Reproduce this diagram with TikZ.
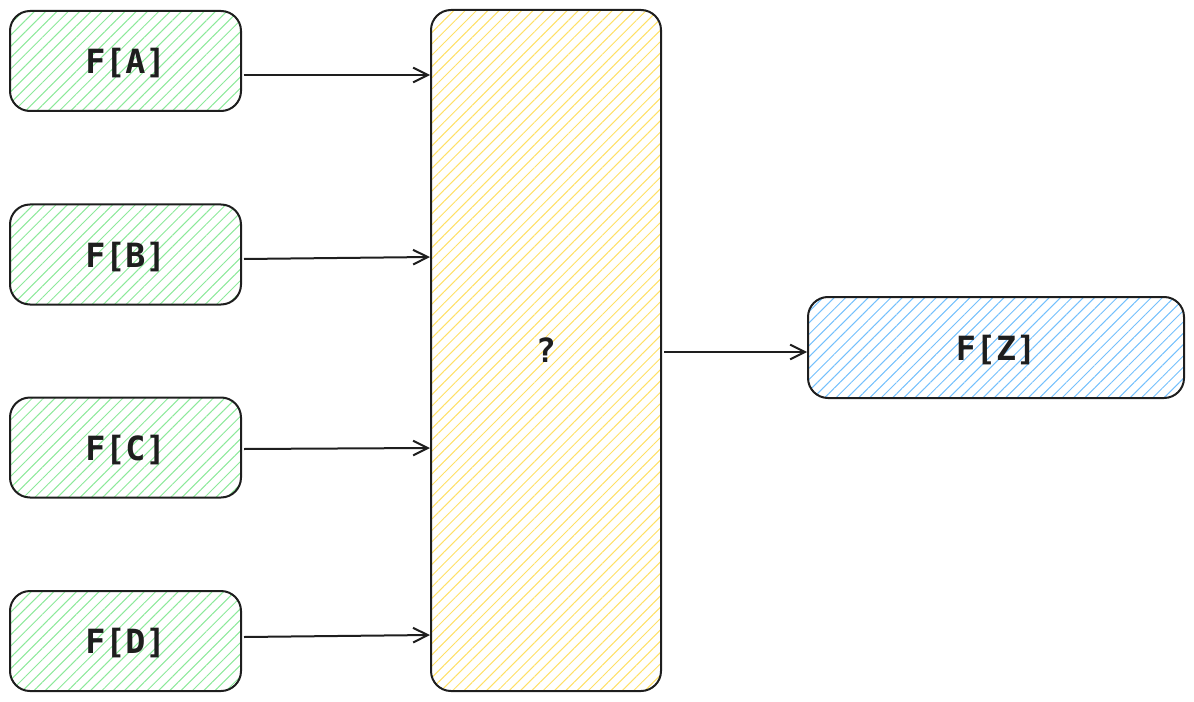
\documentclass[tikz,border=0pt]{standalone}
\usepackage{fontspec}
\setmonofont{DejaVu Sans Mono}
\usetikzlibrary{arrows.meta,patterns.meta}
\definecolor{ink}{HTML}{1E1E1E}
\definecolor{hgreen}{HTML}{8CE99A}
\definecolor{hyellow}{HTML}{FFE066}
\definecolor{hblue}{HTML}{74C0FC}
\tikzset{
  box/.style={draw=ink, line width=1.5pt, rounded corners=15pt, inner sep=0pt,
    pattern={Lines[angle=45,distance=6pt,line width=0.75pt]},
    font=\ttfamily\bfseries\fontsize{25}{29}\selectfont, text=ink, text depth=0pt},
  inbox/.style={box, pattern color=hgreen, minimum width=173.25pt, minimum height=75pt},
  midbox/.style={box, pattern color=hyellow, minimum width=172.5pt, minimum height=510.75pt},
  outbox/.style={box, pattern color=hblue, minimum width=282pt, minimum height=75.75pt},
  link/.style={draw=ink, line width=1.5pt, -{Straight Barb[length=11pt,width=11pt,line width=1.5pt]}}
}
\begin{document}
\begin{tikzpicture}[x=0.75pt,y=-0.75pt]
\useasboundingbox (0,0) rectangle (1194,702);
\node[inbox] (a) at (125.5,61) {F[A]};
\node[inbox] (b) at (125.5,254.5) {F[B]};
\node[inbox] (c) at (125.5,447.5) {F[C]};
\node[inbox] (d) at (125.5,641) {F[D]};
\node[midbox] (q) at (546,350.5) {?};
\node[outbox] (z) at (996,347.5) {F[Z]};
\coordinate (qa) at (q.west |- 0,75);
\coordinate (qb) at (q.west |- 0,257);
\coordinate (qc) at (q.west |- 0,448);
\coordinate (qd) at (q.west |- 0,635);
\coordinate (ao) at (a.east |- 0,75);
\coordinate (bo) at (b.east |- 0,259);
\coordinate (co) at (c.east |- 0,449);
\coordinate (do) at (d.east |- 0,637);
\draw[link] ([xshift=1.5pt]ao) -- (qa);
\draw[link] ([xshift=1.5pt]bo) -- (qb);
\draw[link] ([xshift=1.5pt]co) -- (qc);
\draw[link] ([xshift=1.5pt]do) -- (qd);
\draw[link] ([xshift=1.5pt]q.east |- 0,352) -- (z.west |- 0,352);
\end{tikzpicture}
\end{document}
